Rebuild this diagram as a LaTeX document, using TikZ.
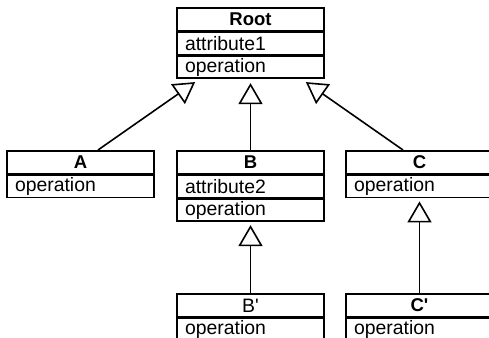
\documentclass[tikz,border=0pt]{standalone}
\usepackage{fontspec}
\setmainfont{Liberation Sans}
\usetikzlibrary{arrows.meta,positioning}
\tikzset{
  clshead/.style={draw,line width=1.7pt,minimum width=147pt,minimum height=23pt,inner sep=0pt,anchor=north,font=\fontsize{18.5}{20}\selectfont\bfseries},
  clsrow/.style={draw,line width=1.7pt,text width=131pt,inner xsep=8pt,inner ysep=0pt,minimum height=22pt,align=left,font=\fontsize{19.4}{22}\selectfont},
  inherit/.style={-{Triangle[open,length=21pt,width=24pt]},line width=1.6pt}
}

\begin{document}
\begin{tikzpicture}[x=1pt,y=-1pt]
  \useasboundingbox (0,0) rectangle (489,337);
  \clip (0,0) rectangle (489,337);
  % root class
  \node[clshead] (root) at (250.5,7) {Root};
  \node[clsrow,below=0pt of root] (rootattr) {attribute1};
  \node[clsrow,below=0pt of rootattr] (rootop) {operation};
  % subclasses
  \node[clshead] (a) at (80.5,150) {A};
  \node[clsrow,below=0pt of a] (aop) {operation};
  \node[clshead] (b) at (250.5,150) {B};
  \node[clsrow,below=0pt of b] (battr) {attribute2};
  \node[clsrow,below=0pt of battr] (bop) {operation};
  \node[clshead] (c) at (419.5,150) {C};
  \node[clsrow,below=0pt of c] (cop) {operation};
  % second level
  \node[clshead,font=\fontsize{19.4}{22}\selectfont] (bp) at (250.5,293) {B\textquotesingle};
  \node[clsrow,below=0pt of bp] (bpop) {operation};
  \node[clshead] (cp) at (419.5,293) {C\textquotesingle};
  \node[clsrow,below=0pt of cp] (cpop) {operation};
  % generalisations
  \draw[inherit] ([xshift=17.5pt]a.north) -- ([xshift=19pt,yshift=-3pt]rootop.south west);
  \draw[inherit] (b.north) -- ([yshift=-4pt]rootop.south);
  \draw[inherit] ([xshift=-16.5pt]c.north) -- ([xshift=-19pt,yshift=-3pt]rootop.south east);
  \draw[inherit] (bp.north) -- ([yshift=-3pt]bop.south);
  \draw[inherit] (cp.north) -- ([yshift=-3pt]cop.south);
\end{tikzpicture}
\end{document}
